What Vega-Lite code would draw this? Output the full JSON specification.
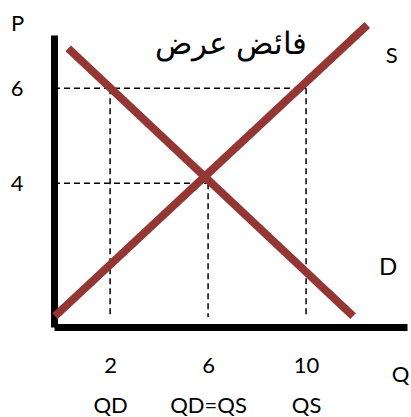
{
  "$schema": "https://vega.github.io/schema/vega-lite/v6.json",
  "width": 353,
  "height": 292,
  "autosize": "none",
  "padding": {"left": 54, "top": 35, "right": 4, "bottom": 90},
  "background": "white",
  "config": {"view": {"stroke": null}, "font": "Lato"},
  "datasets": {
    "curves": [
      {"curve": "S", "q": -0.25, "p": 1.2},
      {"curve": "S", "q": 12.5, "p": 7.33},
      {"curve": "D", "q": 0.29, "p": 6.84},
      {"curve": "D", "q": 11.92, "p": 1.2}
    ],
    "guides": [
      {"q": -0.29, "q2": 10, "p": 6, "p2": 6},
      {"q": -0.29, "q2": 6, "p": 4, "p2": 4},
      {"q": 2, "q2": 2, "p": 6, "p2": 1.18},
      {"q": 6, "q2": 6, "p": 4, "p2": 1.18},
      {"q": 10, "q2": 10, "p": 6, "p2": 1.18}
    ],
    "notes": [
      {"text": "فائض عرض", "q": 6.95, "p": 6.9, "size": 31},
      {"text": "S", "q": 13.5, "p": 6.67, "size": 22},
      {"text": "D", "q": 13.35, "p": 2.21, "size": 24}
    ]
  },
  "layer": [
    {
      "data": {"name": "guides"},
      "mark": {"type": "rule", "color": "black", "strokeWidth": 1.5, "strokeDash": [6, 4]},
      "encoding": {
        "x": {"field": "q", "type": "quantitative", "scale": {"domain": [-0.29, 14.12], "nice": false, "zero": false},
          "axis": {
            "values": [2, 6, 10], "domainColor": "black", "domainWidth": 7, "ticks": false, "tickSize": 0,
            "grid": false, "labelPadding": 28, "labelFontSize": 22, "labelColor": "black", "labelFont": "Lato",
            "labelLineHeight": 40, "labelFlush": false, "labelOverlap": false,
            "labelExpr": "datum.value == 2 ? ['2', 'QD'] : datum.value == 6 ? ['6', 'QD=QS'] : ['10', 'QS']",
            "title": "Q", "titleFontSize": 22, "titleFontWeight": "normal", "titleColor": "black", "titleFont": "Lato",
            "titleX": 346, "titleY": 54, "titleAlign": "center", "titleBaseline": "alphabetic"
          }},
        "x2": {"field": "q2"},
        "y": {"field": "p", "type": "quantitative", "scale": {"domain": [0.97, 7.12], "nice": false, "zero": false},
          "axis": {
            "values": [4, 6], "domainColor": "black", "domainWidth": 7, "ticks": false, "tickSize": 0,
            "grid": false, "labelPadding": 31, "labelFontSize": 22, "labelColor": "black", "labelFont": "Lato",
            "labelBaseline": "middle",
            "title": "P", "titleAngle": 0, "titleFontSize": 22, "titleFontWeight": "normal", "titleColor": "black", "titleFont": "Lato",
            "titleX": -37, "titleY": -5, "titleAlign": "center", "titleBaseline": "alphabetic"
          }},
        "y2": {"field": "p2"}
      }
    },
    {
      "data": {"name": "curves"},
      "mark": {"type": "line", "color": "#943634", "strokeWidth": 8, "strokeCap": "butt"},
      "encoding": {
        "x": {"field": "q", "type": "quantitative"},
        "y": {"field": "p", "type": "quantitative"},
        "detail": {"field": "curve"}
      }
    },
    {
      "data": {"name": "notes"},
      "mark": {"type": "text", "color": "black", "align": "center", "baseline": "middle", "font": "Lato"},
      "encoding": {
        "x": {"field": "q", "type": "quantitative"},
        "y": {"field": "p", "type": "quantitative"},
        "text": {"field": "text"},
        "size": {"field": "size", "type": "quantitative", "scale": null}
      }
    }
  ]
}
